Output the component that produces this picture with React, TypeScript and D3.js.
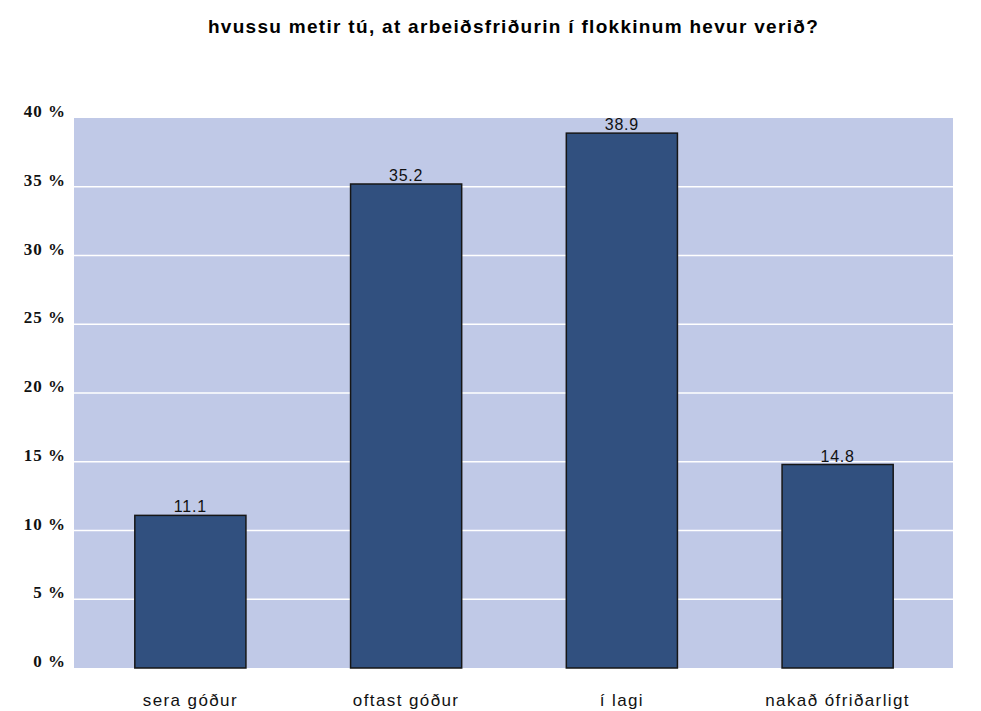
import React from "react";
import * as d3 from "d3";

const title = "hvussu metir tú, at arbeiðsfriðurin í flokkinum hevur verið?";
const categories = ["sera góður", "oftast góður", "í lagi", "nakað ófriðarligt"];
const values = [11.1, 35.2, 38.9, 14.8];
const yTicks = [0, 5, 10, 15, 20, 25, 30, 35, 40];

const W = 981;
const H = 711;
const plotLeft = 74;
const plotRight = 953;
const plotTop = 118;
const plotBottom = 668;

export default function App() {
  const y = d3.scaleLinear().domain([0, 40]).range([plotBottom, plotTop]);
  const x = d3.scaleBand<string>().domain(categories).range([82.5, 945.5]).paddingInner(0.485).paddingOuter(0.2425);
  return (
    <svg width={W} height={H} style={{ position: "absolute", left: 0, top: 0, background: "#fff" }}>
      <rect x={0} y={0} width={W} height={H} fill="#fff" />
      <text x={(plotLeft + plotRight) / 2} y={33} textAnchor="middle" fontFamily="Liberation Sans, Arial, sans-serif" fontWeight="bold" fontSize={19} letterSpacing={1.3} fill="#000">
        {title}
      </text>
      <rect x={plotLeft} y={plotTop} width={plotRight - plotLeft} height={plotBottom - plotTop} fill="#c0c9e7" />
      {yTicks.filter((t) => t > 0 && t < 40).map((t) => (
        <line key={t} x1={plotLeft} x2={plotRight} y1={y(t)} y2={y(t)} stroke="#ffffff" strokeWidth={1.5} />
      ))}
      {yTicks.map((t) => (
        <text key={t} x={66} y={y(t) - 1} textAnchor="end" fontFamily="Liberation Serif, Times New Roman, serif" fontWeight="bold" fontSize={17} letterSpacing={1} fill="#111">
          {t} %
        </text>
      ))}
      {categories.map((c, i) => (
        <g key={c}>
          <rect x={x(c)!} y={y(values[i])} width={x.bandwidth()} height={plotBottom - y(values[i])} fill="#31507f" stroke="#161616" strokeWidth={1.5} />
          <text x={x(c)! + x.bandwidth() / 2} y={y(values[i]) - 3} textAnchor="middle" fontFamily="Liberation Sans, Arial, sans-serif" fontSize={16} letterSpacing={0.8} fill="#111">
            {values[i].toFixed(1)}
          </text>
          <text x={x(c)! + x.bandwidth() / 2} y={706} textAnchor="middle" fontFamily="Liberation Sans, Arial, sans-serif" fontSize={17} letterSpacing={1.4} fill="#111">
            {c}
          </text>
        </g>
      ))}
    </svg>
  );
}
